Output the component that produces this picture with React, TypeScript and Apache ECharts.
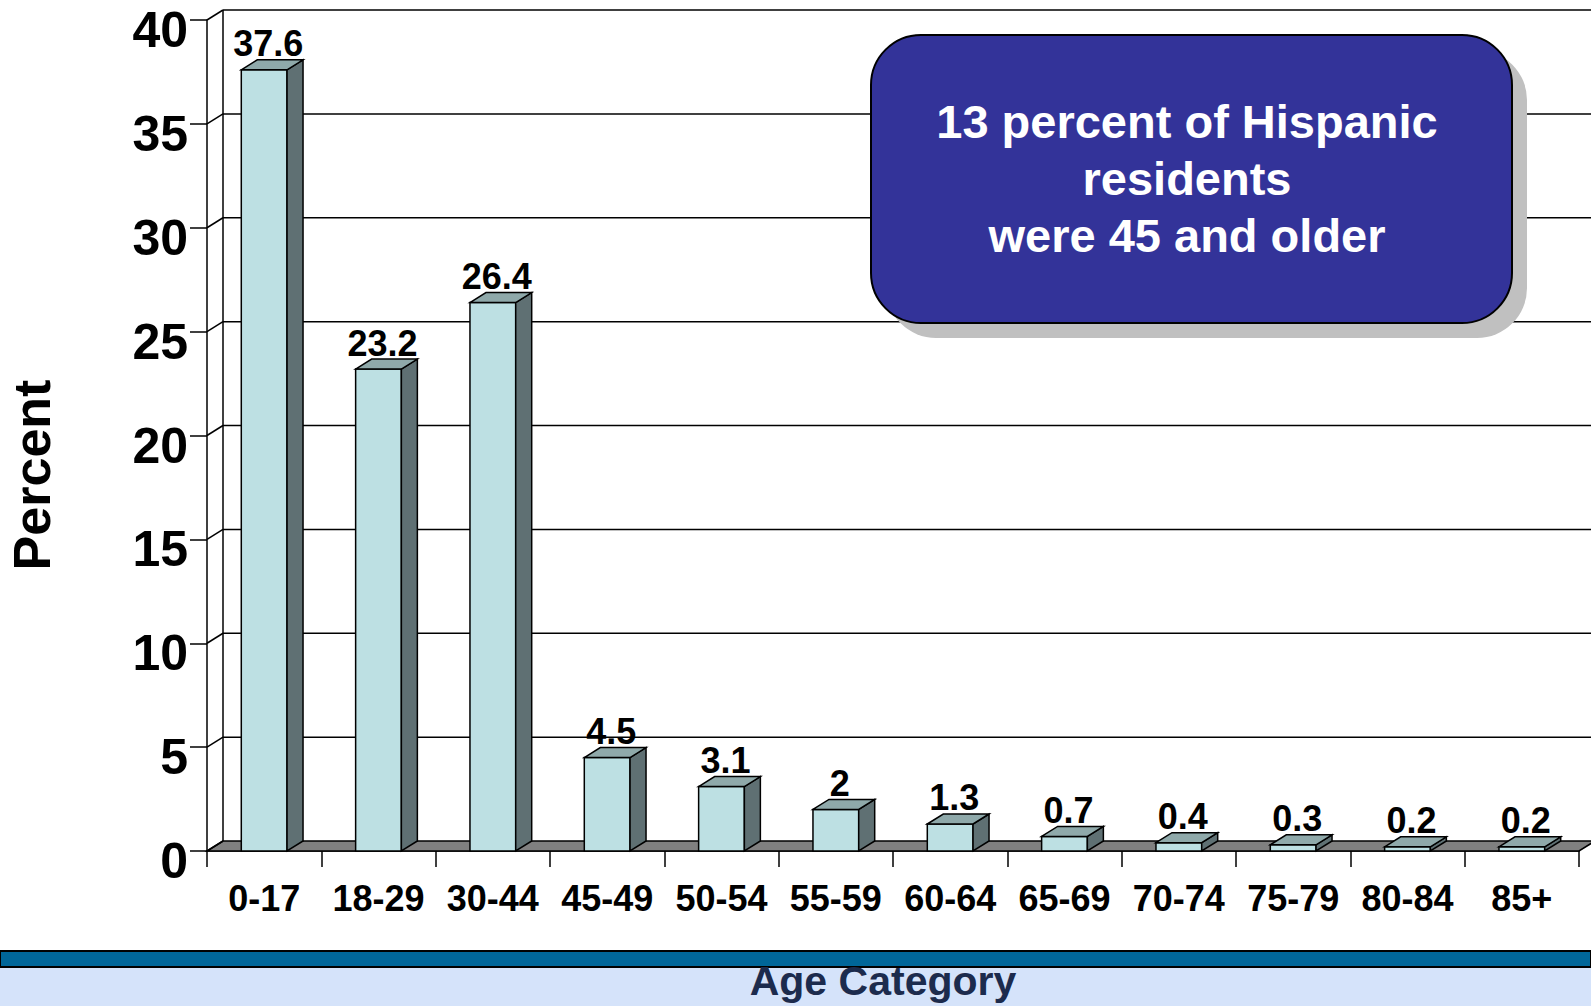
import React, { useEffect, useRef } from 'react';
import * as echarts from 'echarts';

const categories = ['0-17', '18-29', '30-44', '45-49', '50-54', '55-59', '60-64', '65-69', '70-74', '75-79', '80-84', '85+'];
const percents = [37.6, 23.2, 26.4, 4.5, 3.1, 2, 1.3, 0.7, 0.4, 0.3, 0.2, 0.2];
const yTicks = [0, 5, 10, 15, 20, 25, 30, 35, 40];
const noteLines = ['13 percent of Hispanic', 'residents', 'were 45 and older'];
const yTitle = 'Percent';
const xTitle = 'Age Category';

const DX = 16;
const DY = 10;
const FONT = '"Liberation Sans", Arial, Helvetica, sans-serif';
const FRONT = '#bde0e3';
const SIDE = '#5f7073';
const TOP = '#8fa9aa';
const LINE = { stroke: '#000', lineWidth: 1.5 };

export default function App() {
  const ref = useRef<HTMLDivElement>(null);
  useEffect(() => {
    document.body.style.margin = '0';
    const chart = echarts.init(ref.current as HTMLDivElement, null, { renderer: 'svg' });
    chart.setOption({
      animation: false,
      backgroundColor: '#ffffff',
      grid: { left: 207, right: 12, top: 20, bottom: 155, containLabel: false, outerBoundsMode: 'none' },
      xAxis: {
        type: 'category',
        data: categories,
        boundaryGap: true,
        name: xTitle,
        nameLocation: 'middle',
        nameGap: 110,
        nameTextStyle: { fontSize: 41, lineHeight: 40, fontWeight: 'bold', color: '#1c2b4d', fontFamily: FONT, padding: [0, 20, 0, 0] },
        axisLine: { show: true, lineStyle: { color: '#000', width: 1.5 } },
        axisTick: { show: true, length: 16, lineStyle: { color: '#000', width: 1.5 } },
        axisLabel: { fontSize: 36, fontWeight: 'bold', color: '#000', fontFamily: FONT, margin: 29, interval: 0 },
        splitLine: { show: false },
      },
      yAxis: {
        type: 'value',
        min: 0,
        max: 40,
        interval: 5,
        axisLine: { show: true, lineStyle: { color: '#000', width: 1.5 } },
        axisTick: { show: true, length: 17, lineStyle: { color: '#000', width: 1.5 } },
        axisLabel: { show: false },
        splitLine: { show: false },
      },
      series: [
        {
          type: 'custom',
          name: 'wall',
          silent: true,
          z: 1,
          data: yTicks.map((v) => [0, v]),
          encode: { x: 0, y: 1 },
          renderItem: (params: any, api: any) => {
            const cs = params.coordSys;
            const v = api.value(1);
            const y = api.coord([0, v])[1];
            const left = cs.x;
            const right = cs.x + cs.width;
            const children: any[] = [];
            if (v === 0) {
              children.push({
                type: 'polygon',
                shape: { points: [[left, y], [right, y], [right + DX, y - DY], [left + DX, y - DY]] },
                style: { fill: '#808080', ...LINE },
              });
              const yTop = api.coord([0, yTicks[yTicks.length - 1]])[1];
              children.push({
                type: 'line',
                shape: { x1: left + DX, y1: yTop - DY, x2: left + DX, y2: y - DY },
                style: LINE,
              });
            } else {
              children.push({
                type: 'line',
                shape: { x1: left + DX, y1: y - DY, x2: right + DX + 60, y2: y - DY },
                style: LINE,
              });
            }
            children.push({
              type: 'line',
              shape: { x1: left, y1: y, x2: left + DX, y2: y - DY },
              style: LINE,
            });
            children.push({
              type: 'text',
              x: left - 19,
              y: y + 10,
              style: {
                text: String(v),
                align: 'right',
                verticalAlign: 'middle',
                fontSize: 50,
                fontWeight: 'bold',
                fontFamily: FONT,
                fill: '#000',
              },
            });
            return { type: 'group', children };
          },
        },
        {
          type: 'custom',
          name: 'Percent',
          z: 3,
          data: percents.map((v, i) => [i, v]),
          encode: { x: 0, y: 1 },
          renderItem: (params: any, api: any) => {
            const i = api.value(0);
            const v = api.value(1);
            const top = api.coord([i, v]);
            const base = api.coord([i, 0]);
            const bw = api.size([1, 0])[0] * 0.4;
            const x0 = top[0] - bw / 2;
            const x1 = top[0] + bw / 2;
            const yt = top[1];
            const yb = base[1];
            return {
              type: 'group',
              children: [
                { type: 'rect', shape: { x: x0, y: yt, width: bw, height: yb - yt }, style: { fill: FRONT, ...LINE } },
                {
                  type: 'polygon',
                  shape: { points: [[x1, yt], [x1 + DX, yt - DY], [x1 + DX, yb - DY], [x1, yb]] },
                  style: { fill: SIDE, ...LINE },
                },
                {
                  type: 'polygon',
                  shape: { points: [[x0, yt], [x0 + DX, yt - DY], [x1 + DX, yt - DY], [x1, yt]] },
                  style: { fill: TOP, ...LINE },
                },
                {
                  type: 'text',
                  x: top[0] + 4,
                  y: yt - DY + 2,
                  style: {
                    text: String(v),
                    align: 'center',
                    verticalAlign: 'bottom',
                    fontSize: 36,
                    fontWeight: 'bold',
                    fontFamily: FONT,
                    fill: '#000',
                  },
                },
              ],
            };
          },
        },
      ],
      graphic: [
        { type: 'rect', z: -10, shape: { x: 0, y: 951, width: 1591, height: 16 }, style: { fill: '#006699', stroke: '#000', lineWidth: 2 } },
        { type: 'rect', z: -10, shape: { x: 0, y: 968, width: 1591, height: 40 }, style: { fill: '#d5e3fa' } },
        {
          type: 'text',
          x: 32,
          y: 475,
          rotation: Math.PI / 2,
          style: { text: yTitle, align: 'center', verticalAlign: 'middle', fontSize: 52, fontWeight: 'bold', fontFamily: FONT, fill: '#000' },
        },
        {
          type: 'group',
          z: 100,
          children: [
            { type: 'rect', z: 100, shape: { x: 886, y: 50, width: 641, height: 288, r: 50 }, style: { fill: '#c0c0c0' } },
            { type: 'rect', z: 101, shape: { x: 871, y: 35, width: 641, height: 288, r: 50 }, style: { fill: '#333399', stroke: '#000', lineWidth: 2 } },
            ...noteLines.map((t, k) => ({
              type: 'text',
              z: 102,
              x: 1187,
              y: 121 + k * 57,
              style: { text: t, align: 'center', verticalAlign: 'middle', fontSize: 47, fontWeight: 'bold', fontFamily: FONT, fill: '#fff' },
            })),
          ],
        },
      ],
    });
    return () => chart.dispose();
  }, []);
  return <div ref={ref} style={{ position: 'fixed', left: 0, top: 0, width: 1591, height: 1006, background: '#fff' }} />;
}
